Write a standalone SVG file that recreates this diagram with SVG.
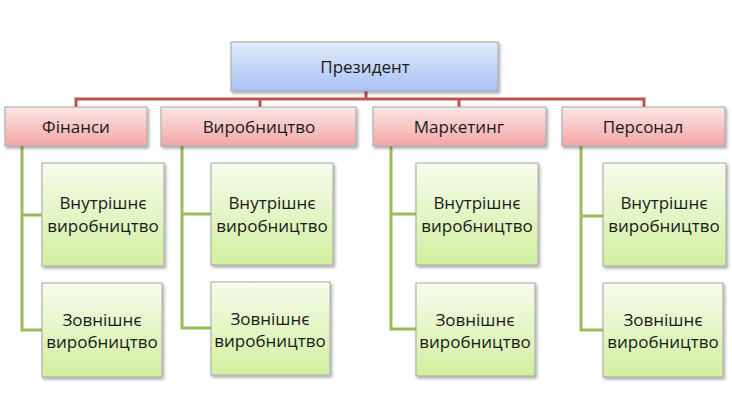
<svg xmlns="http://www.w3.org/2000/svg" width="732" height="420" viewBox="0 0 732 420">
<defs>
<linearGradient id="gBlue" x1="0" y1="0" x2="0" y2="1"><stop offset="0" stop-color="#e3ecfc"/><stop offset="1" stop-color="#a7c2f4"/></linearGradient>
<linearGradient id="gRed" x1="0" y1="0" x2="0" y2="1"><stop offset="0" stop-color="#fde6e6"/><stop offset="1" stop-color="#f3a6a6"/></linearGradient>
<linearGradient id="gGreen" x1="0" y1="0" x2="0" y2="1"><stop offset="0" stop-color="#f6fcec"/><stop offset="1" stop-color="#d2ef9f"/></linearGradient>
<filter id="sh" x="-10%" y="-10%" width="125%" height="130%"><feDropShadow dx="1.5" dy="2" stdDeviation="1.5" flood-color="#000" flood-opacity="0.35"/></filter>
</defs>
<style>
.box{stroke:#a6a6a6;stroke-width:1;filter:url(#sh)}
.b{fill:url(#gBlue)}
.r{fill:url(#gRed)}
.g{fill:url(#gGreen)}
text{font-family:"Open Sans","Noto Sans",sans-serif;font-size:17px;fill:#1a1a1a;text-anchor:middle}
.red{stroke:#c0504d;stroke-width:3;fill:none}
.grn{stroke:#9bbb59;stroke-width:3;fill:none}
</style>
<g id="connectors">
<path class="red" d="M366 91V99M76 107V99H644V107M260 99V107M459 99V107"/>
<path class="grn" d="M22 146V330H42M22 215H42"/>
<path class="grn" d="M182 146V328H211M182 214H211"/>
<path class="grn" d="M391 146V329H416M391 214H416"/>
<path class="grn" d="M581 146V330H603M581 216H603"/>
</g>
<g id="president"><rect class="box b" x="231" y="42" width="267" height="49"/><text x="365" y="73">Президент</text></g>
<g id="finance"><rect class="box r" x="5" y="107" width="142" height="39"/><text x="76" y="133">Фінанси</text></g>
<g id="vyrob"><rect class="box r" x="161" y="107" width="195" height="39"/><text x="259" y="133">Виробництво</text></g>
<g id="marketing"><rect class="box r" x="373" y="107" width="173" height="39"/><text x="459" y="133">Маркетинг</text></g>
<g id="personal"><rect class="box r" x="562" y="107" width="163" height="39"/><text x="643" y="133">Персонал</text></g>
<g id="f1"><rect class="box g" x="42" y="163" width="122" height="103"/><text x="103" y="209">Внутрішнє</text><text x="103" y="232">виробництво</text></g>
<g id="f2"><rect class="box g" x="42" y="283" width="120" height="94"/><text x="102" y="326">Зовнішнє</text><text x="102" y="348">виробництво</text></g>
<g id="v1"><rect class="box g" x="211" y="163" width="122" height="102"/><text x="272" y="209">Внутрішнє</text><text x="272" y="232">виробництво</text></g>
<g id="v2"><rect class="box g" x="211" y="282" width="119" height="93"/><text x="270" y="325">Зовнішнє</text><text x="270" y="347">виробництво</text></g>
<g id="m1"><rect class="box g" x="416" y="163" width="122" height="102"/><text x="477" y="209">Внутрішнє</text><text x="477" y="232">виробництво</text></g>
<g id="m2"><rect class="box g" x="416" y="283" width="119" height="93"/><text x="475" y="326">Зовнішнє</text><text x="475" y="348">виробництво</text></g>
<g id="p1"><rect class="box g" x="603" y="163" width="123" height="103"/><text x="664" y="209">Внутрішнє</text><text x="664" y="232">виробництво</text></g>
<g id="p2"><rect class="box g" x="603" y="283" width="120" height="94"/><text x="663" y="326">Зовнішнє</text><text x="663" y="348">виробництво</text></g>
</svg>
